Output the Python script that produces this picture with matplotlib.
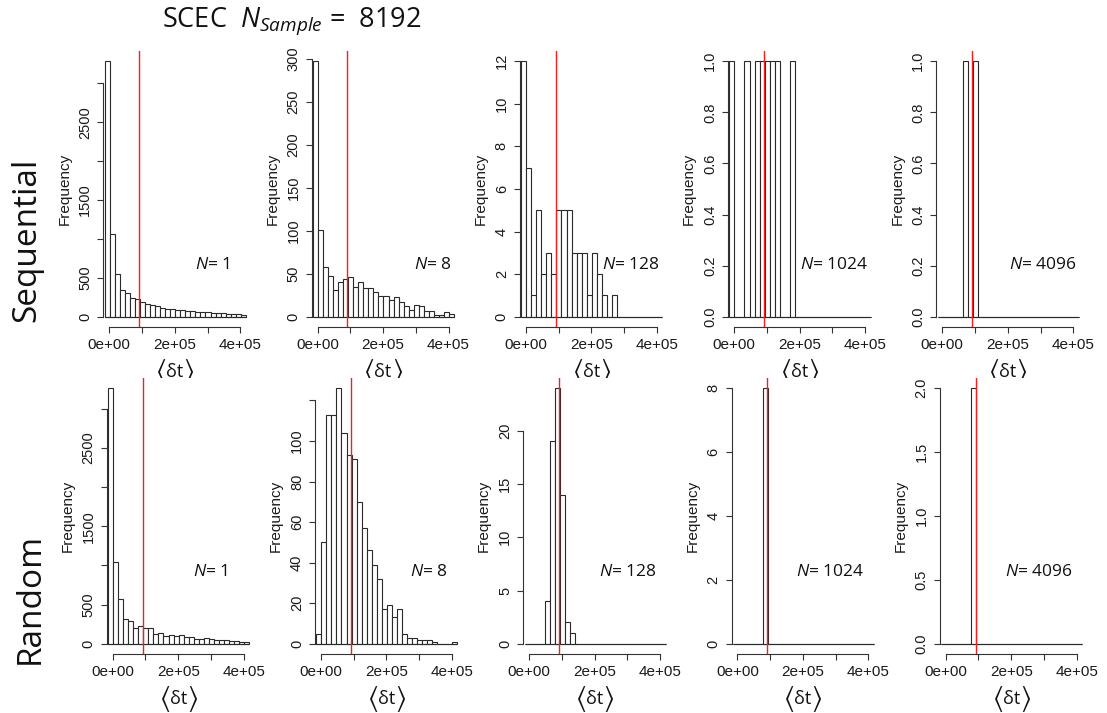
import numpy as np
import matplotlib
matplotlib.use("Agg")
import matplotlib.pyplot as plt
from matplotlib.transforms import offset_copy

plt.rcParams['mathtext.fontset'] = 'custom'
plt.rcParams['mathtext.it'] = 'Open Sans:italic'
plt.rcParams['mathtext.rm'] = 'Open Sans'

# ---------------- data ----------------
bin_start = -1.43e4
bin_width = 1.54e4
n_bins = 28
mean_dt = 9.1e4
group_sizes = [1, 8, 128, 1024, 4096]
row_names = ["Sequential", "Random"]

seq_N1 = [3285, 1060, 553, 343, 300, 236, 223, 195, 165, 146, 138, 107, 94, 94,
          86, 82, 73, 69, 60, 56, 56, 52, 47, 43, 39, 34, 30, 17]
seq_N8 = [297, 101, 58, 47, 31, 40, 44, 46, 35, 40, 33, 34, 29, 24,
          24, 20, 23, 17, 12, 8, 14, 13, 7, 7, 2, 2, 6, 3]
seq_N128 = [12, 7, 1, 5, 2, 3, 2, 5, 5, 5, 3, 3, 3, 1,
            3, 2, 1, 0, 1, 0, 0, 0, 0, 0, 0, 0, 0, 0]
seq_N1024 = [1, 0, 0, 1, 0, 1, 1, 1, 1, 1, 0, 0, 1, 0,
             0, 0, 0, 0, 0, 0, 0, 0, 0, 0, 0, 0, 0, 0]
seq_N4096 = [0, 0, 0, 0, 0, 1, 0, 1, 0, 0, 0, 0, 0, 0,
             0, 0, 0, 0, 0, 0, 0, 0, 0, 0, 0, 0, 0, 0]

rnd_N1 = [3261, 1043, 575, 318, 293, 202, 232, 204, 202, 130, 138, 104, 117, 96,
          106, 87, 87, 60, 60, 70, 66, 49, 47, 42, 30, 38, 25, 19]
rnd_N8 = [5, 50, 113, 113, 126, 104, 93, 91, 70, 57, 46, 39, 32, 17,
          19, 13, 17, 5, 3, 3, 2, 2, 2, 1, 0, 0, 0, 1]
rnd_N128 = [0, 0, 0, 0, 4, 19, 24, 14, 2, 1, 0, 0, 0, 0,
            0, 0, 0, 0, 0, 0, 0, 0, 0, 0, 0, 0, 0, 0]
rnd_N1024 = [0, 0, 0, 0, 0, 0, 8, 0, 0, 0, 0, 0, 0, 0,
             0, 0, 0, 0, 0, 0, 0, 0, 0, 0, 0, 0, 0, 0]
rnd_N4096 = [0, 0, 0, 0, 0, 0, 2, 0, 0, 0, 0, 0, 0, 0,
             0, 0, 0, 0, 0, 0, 0, 0, 0, 0, 0, 0, 0, 0]

counts = [[seq_N1, seq_N8, seq_N128, seq_N1024, seq_N4096],
          [rnd_N1, rnd_N8, rnd_N128, rnd_N1024, rnd_N4096]]

x_ticks = [0, 1e5, 2e5, 3e5, 4e5]
x_ticklabels = ["0e+00", "", "2e+05", "", "4e+05"]

y_ticks = [
    [[0, 500, 1000, 1500, 2000, 2500, 3000], [0, 50, 100, 150, 200, 250, 300],
     [0, 2, 4, 6, 8, 10, 12], [0, 0.2, 0.4, 0.6, 0.8, 1.0], [0, 0.2, 0.4, 0.6, 0.8, 1.0]],
    [[0, 500, 1000, 1500, 2000, 2500, 3000], [0, 20, 40, 60, 80, 100, 120],
     [0, 5, 10, 15, 20], [0, 2, 4, 6, 8], [0, 0.5, 1.0, 1.5, 2.0]],
]
y_ticklabels = [
    [["0", "500", "", "1500", "", "2500", ""], ["0", "50", "100", "150", "200", "250", "300"],
     ["0", "2", "4", "6", "8", "10", "12"], ["0.0", "0.2", "0.4", "0.6", "0.8", "1.0"],
     ["0.0", "0.2", "0.4", "0.6", "0.8", "1.0"]],
    [["0", "500", "", "1500", "", "2500", ""], ["0", "20", "40", "60", "80", "100", ""],
     ["0", "5", "10", "15", "20"], ["0", "2", "4", "6", "8"],
     ["0.0", "0.5", "1.0", "1.5", "2.0"]],
]

# ---------------- layout (pixels) ----------------
W, H = 1107, 713
fig = plt.figure(figsize=(W / 100, H / 100), dpi=100)

edges = bin_start + bin_width * np.arange(n_bins + 1)
xlim = (-1.8e4, 4.3e5)
px_per_unit = 32.75 / 1e5
row_zero_x = [109.3, 112.7]
row_axis_y = [327, 654]
plot_h = 276
panel_dx = 208.25
n_label_x = [[3.69e5, 4.09e5, 4.09e5, 4.09e5, 4.09e5],
             [3.50e5, 3.88e5, 3.88e5, 3.88e5, 3.88e5]]
n_label_y = [0.225, 0.298]

axis_col = "#333333"

for r in range(2):
    for c in range(5):
        x0 = row_zero_x[r] + panel_dx * c
        left_px = x0 + xlim[0] * px_per_unit
        width_px = (xlim[1] - xlim[0]) * px_per_unit
        bottom_px = row_axis_y[r]
        ax = fig.add_axes([left_px / W, 1 - bottom_px / H, width_px / W, plot_h / H])
        cnt = np.array(counts[r][c], dtype=float)
        M = cnt.max()
        ax.bar(edges[:-1], cnt, width=bin_width, align='edge', facecolor='white',
               edgecolor='#2a2a2a', linewidth=0.8)
        ax.hlines(0, edges[0], edges[-1], color='#2a2a2a', linewidth=0.8)
        ax.axvline(mean_dt, color='#ff1a1a', linewidth=1.0)
        ax.set_xlim(*xlim)
        ax.set_ylim(-0.04 * M, 1.04 * M)
        for s in ['top', 'right']:
            ax.spines[s].set_visible(False)
        yt = y_ticks[r][c]
        ax.spines['left'].set_bounds(0, yt[-1])
        ax.spines['bottom'].set_bounds(0, 4e5)
        for s in ['left', 'bottom']:
            ax.spines[s].set_color(axis_col)
            ax.spines[s].set_linewidth(0.8)
        ax.set_xticks(x_ticks)
        ax.set_xticklabels(x_ticklabels, fontfamily='Liberation Sans', fontsize=11,
                           color='#1a1a1a')
        ax.set_yticks(yt)
        ax.set_yticklabels(y_ticklabels[r][c], rotation=90, va='center',
                           fontfamily='Liberation Sans', fontsize=10.5, color='#1a1a1a')
        ax.tick_params(axis='both', direction='out', length=4, width=0.8,
                       color=axis_col)
        ax.tick_params(axis='x', pad=4)
        ax.tick_params(axis='y', pad=4)
        ax.set_ylabel("Frequency", fontfamily='Liberation Sans', fontsize=11,
                      color='#1a1a1a', labelpad=5)
        ax.text(n_label_x[r][c], n_label_y[r], r"$N$= %d" % group_sizes[c],
                transform=ax.get_xaxis_transform(), ha='right', va='center',
                fontsize=12.5, fontfamily='Open Sans', color='#111111')
        # <delta t> axis label: tall brackets around "δt"
        tr = ax.get_xaxis_transform()
        ycen = -45 / plot_h
        ax.text(2e5, ycen, "δt", transform=tr, ha='center', va='center',
                fontsize=13, fontfamily='Open Sans', color='#111111', clip_on=False)
        for dx, s in [(-14, r"$\langle$"), (14, r"$\rangle$")]:
            t2 = offset_copy(tr, fig=fig, x=dx, y=0, units='dots')
            ax.text(2e5, ycen, s, transform=t2, ha='center', va='center',
                    fontsize=20, math_fontfamily='stixsans', color='#111111',
                    clip_on=False)

# row labels
fig.text(27 / W, 1 - 240 / H, row_names[0], rotation=90, ha='center', va='center',
         fontsize=24, fontfamily='Open Sans', color='#111111')
fig.text(30 / W, 1 - 598 / H, row_names[1], rotation=90, ha='center', va='center',
         fontsize=24, fontfamily='Open Sans', color='#111111')

# title
fig.text(162 / W, 1 - 21 / H, r"SCEC  $N_{Sample}$ =  8192", ha='left', va='center',
         fontsize=19.5, fontfamily='Open Sans', color='#111111')

fig.savefig("out.png", dpi=100)
